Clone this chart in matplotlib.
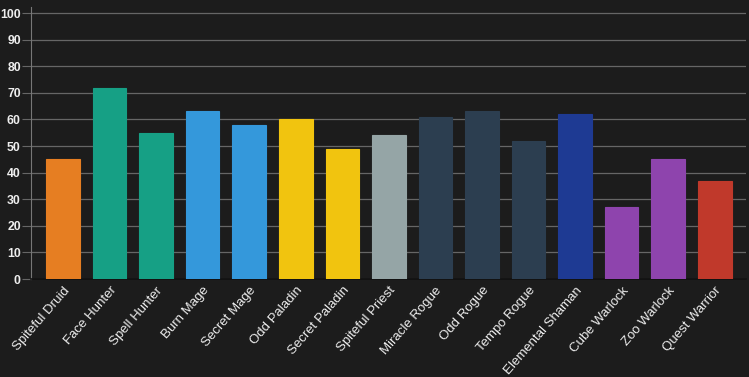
import matplotlib
matplotlib.use("Agg")
import matplotlib.pyplot as plt
from matplotlib.transforms import ScaledTranslation

categories = ["Spiteful Druid", "Face Hunter", "Spell Hunter", "Burn Mage", "Secret Mage",
              "Odd Paladin", "Secret Paladin", "Spiteful Priest", "Miracle Rogue", "Odd Rogue",
              "Tempo Rogue", "Elemental Shaman", "Cube Warlock", "Zoo Warlock", "Quest Warrior"]
values = [45, 72, 55, 63, 58, 60, 49, 54, 61, 63, 52, 62, 27, 45, 37]
colors = ["#e67e22", "#16a085", "#16a085", "#3498db", "#3498db", "#f1c40f", "#f1c40f",
          "#95a5a6", "#2c3e50", "#2c3e50", "#2c3e50", "#1e3a93", "#8e44ad", "#8e44ad", "#c0392b"]
yticks = list(range(0, 101, 10))

bg = "#1c1c1c"
fig = plt.figure(figsize=(7.49, 3.77), dpi=100, facecolor=bg)
ax = fig.add_axes([31/749, (377-279)/377, (746-31)/749, (279-7)/377])
ax.set_facecolor(bg)
x = list(range(len(categories)))
ax.bar(x, values, width=0.72, color=colors, edgecolor=colors, linewidth=0.8, zorder=3)
ax.set_xlim(-0.687, 14.67)
ax.set_ylim(0, 102.3)
ax.set_yticks(yticks)
ax.set_xticks(x)
ax.set_xticklabels(categories, rotation=49, ha="right", rotation_mode="anchor",
                   fontsize=9.5, color="#eeeeee", family="Liberation Sans")
offset = ScaledTranslation(5/100, 0, fig.dpi_scale_trans)
for lab in ax.get_xticklabels():
    lab.set_transform(lab.get_transform() + offset)
for lab in ax.get_yticklabels():
    lab.set_fontsize(8.8)
    lab.set_fontweight("bold")
    lab.set_color("#eeeeee")
    lab.set_family("Liberation Sans")
ax.grid(axis="y", color="#666666", linewidth=0.9, zorder=0)
ax.tick_params(axis="y", length=6.5, color="#666666", pad=0.8)
ax.tick_params(axis="x", length=0, pad=4)
for s in ["top", "right"]:
    ax.spines[s].set_visible(False)
ax.spines["left"].set_color("#777777")
ax.spines["bottom"].set_color("#111111")
ax.spines["bottom"].set_linewidth(1.2)
fig.savefig("out.png", dpi=100, facecolor=bg)
